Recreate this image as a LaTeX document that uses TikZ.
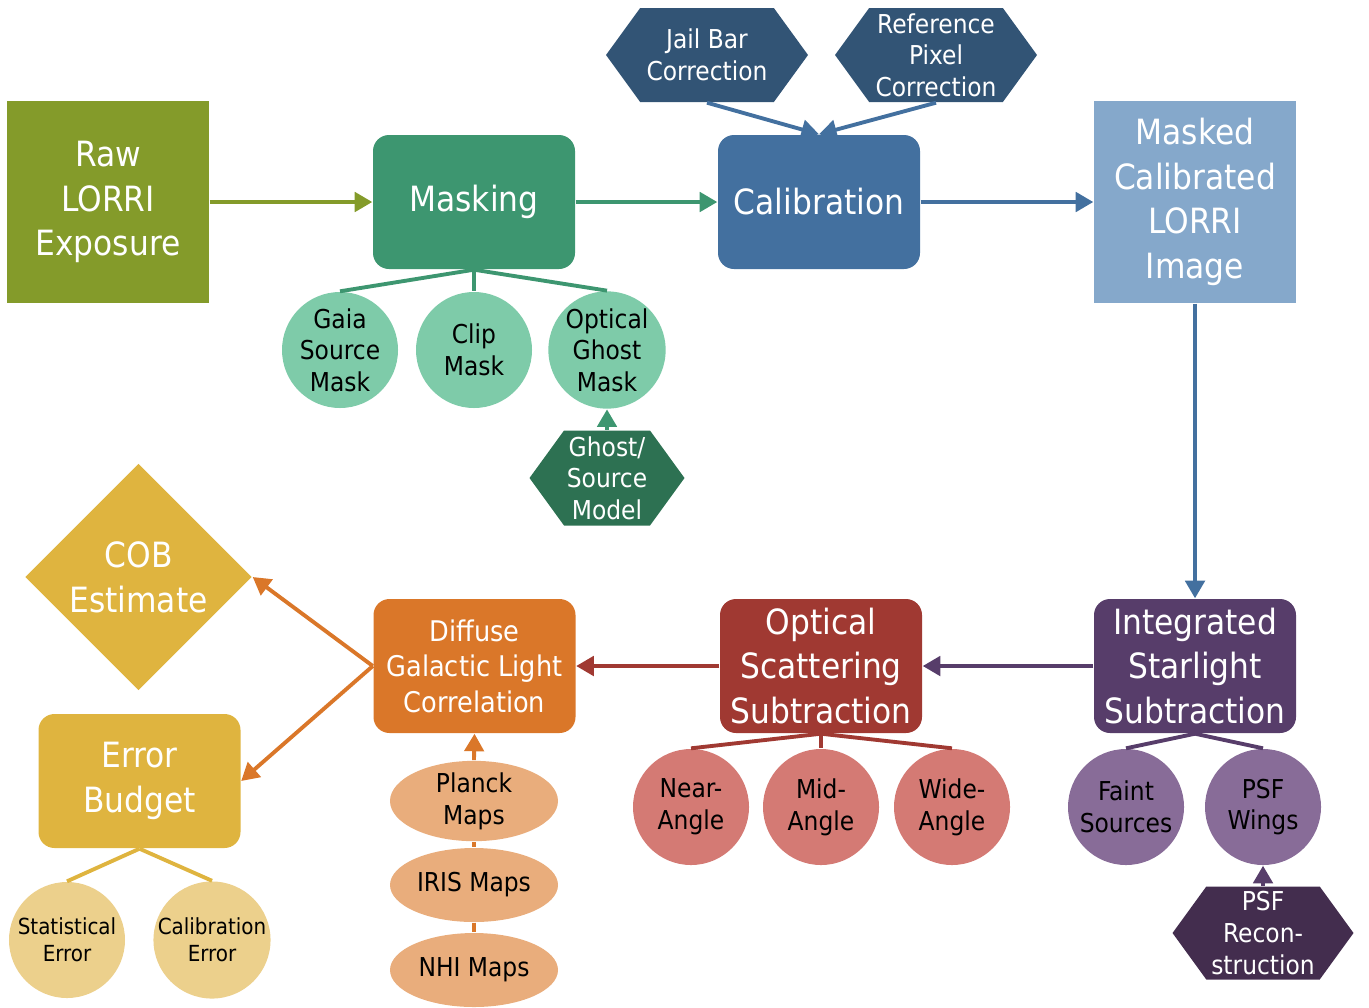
\documentclass[tikz,border=0pt]{standalone}
\usepackage{fontspec}
\setmainfont{DejaVu Sans Condensed}
\usepackage{tikz}
\usetikzlibrary{positioning,arrows.meta,shapes.geometric,shapes.symbols}

\definecolor{rawc}{HTML}{849B2A}
\definecolor{maskc}{HTML}{3D9670}
\definecolor{maskl}{HTML}{7ECBA9}
\definecolor{maskd}{HTML}{2D7152}
\definecolor{calc}{HTML}{43709F}
\definecolor{cald}{HTML}{325475}
\definecolor{imgc}{HTML}{85A8CB}
\definecolor{islc}{HTML}{573D6A}
\definecolor{isll}{HTML}{886C98}
\definecolor{isld}{HTML}{432D4E}
\definecolor{optc}{HTML}{A03932}
\definecolor{optl}{HTML}{D47A74}
\definecolor{dglc}{HTML}{DA7729}
\definecolor{dgll}{HTML}{E9AD7C}
\definecolor{cobc}{HTML}{DFB43F}
\definecolor{cobl}{HTML}{ECD08C}

\begin{document}
\begin{tikzpicture}[
  big/.style={font=\fontsize{9.9}{12.7}\selectfont, text=white, align=center, inner sep=0pt},
  block/.style={big, rectangle, minimum width=2.02cm, minimum height=2.02cm},
  stage/.style={big, rectangle, rounded corners=0.16cm, minimum width=2.02cm, minimum height=1.34cm},
  sub/.style={circle, minimum size=1.16cm, inner sep=0pt, align=center,
    font=\fontsize{7.4}{9}\selectfont},
  hexa/.style={signal, signal to=east and west, signal pointer angle=108,
    minimum width=2.02cm, minimum height=0.94cm, inner sep=0pt, align=center,
    text=white, font=\fontsize{7.4}{9}\selectfont},
  map/.style={ellipse, minimum width=1.68cm, minimum height=0.74cm, inner sep=0pt,
    align=center, fill=dgll, font=\fontsize{7.4}{9}\selectfont},
  flow/.style={line width=1.1pt, -{Triangle[length=5pt, width=5.5pt]}},
  link/.style={line width=1.1pt}
]
\useasboundingbox (0,0) rectangle (13.69,-10.07);

% top row
\node[block, fill=rawc] (raw) at (1.08,-2.02) {Raw\\LORRI\\Exposure};
\node[stage, fill=maskc] (mask) at (4.74,-2.02) {Masking};
\node[stage, fill=calc] (cal) at (8.19,-2.02) {Calibration};
\node[block, fill=imgc] (img) at (11.95,-2.02) {Masked\\Calibrated\\LORRI\\Image};

\node[hexa, fill=cald] (jail) at (7.07,-0.55) {Jail Bar\\Correction};
\node[hexa, fill=cald] (refpix) at (9.36,-0.55) {Reference\\Pixel\\Correction};

\node[sub, fill=maskl] (gaia) at (3.40,-3.50) {Gaia\\Source\\Mask};
\node[sub, fill=maskl] (clip) at (4.74,-3.50) {Clip\\Mask};
\node[sub, fill=maskl] (ghost) at (6.07,-3.50) {Optical\\Ghost\\Mask};
\node[hexa, fill=maskd, minimum width=1.55cm, minimum height=0.95cm] (ghmod) at (6.07,-4.78) {Ghost/\\Source\\Model};

% bottom row
\node[stage, fill=islc] (isl) at (11.95,-6.66) {Integrated\\Starlight\\Subtraction};
\node[stage, fill=optc] (opt) at (8.21,-6.66) {Optical\\Scattering\\Subtraction};
\node[stage, fill=dglc, font=\fontsize{8.1}{10.1}\selectfont] (dgl) at (4.745,-6.66) {Diffuse\\Galactic Light\\Correlation};

\node[sub, fill=isll] (faint) at (11.26,-8.07) {Faint\\Sources};
\node[sub, fill=isll] (wings) at (12.63,-8.07) {PSF\\Wings};
\node[hexa, fill=isld, minimum width=1.81cm, minimum height=0.93cm] (psfrec) at (12.63,-9.33) {PSF\\Recon-\\struction};

\node[sub, fill=optl] (near) at (6.91,-8.07) {Near-\\Angle};
\node[sub, fill=optl] (mid) at (8.21,-8.07) {Mid-\\Angle};
\node[sub, fill=optl] (wide) at (9.52,-8.07) {Wide-\\Angle};

\node[map] (planck) at (4.74,-8.01) {Planck\\Maps};
\node[map] (iris) at (4.74,-8.85) {IRIS Maps};
\node[map] (nhi) at (4.74,-9.70) {NHI Maps};

\node[diamond, aspect=1, fill=cobc, big, minimum width=2.27cm, minimum height=2.27cm] (cob) at (1.385,-5.77) {COB\\Estimate};
\node[stage, fill=cobc] (err) at (1.395,-7.81) {Error\\Budget};
\node[sub, fill=cobl, font=\fontsize{6.3}{7.7}\selectfont] (stat) at (0.67,-9.40) {Statistical\\Error};
\node[sub, fill=cobl, font=\fontsize{6.3}{7.7}\selectfont] (calerr) at (2.12,-9.40) {Calibration\\Error};

% connectors
\draw[flow, rawc] (raw) -- (mask);
\draw[flow, maskc] (mask) -- (cal);
\draw[flow, calc] (cal) -- (img);
\draw[flow, calc] (jail.south) -- (cal.north);
\draw[flow, calc] (refpix.south) -- (cal.north);
\draw[flow, calc] (img) -- (isl);
\draw[flow, islc] (isl) -- (opt);
\draw[flow, optc] (opt) -- (dgl);
\draw[flow, dglc] (dgl.west) -- (cob.east);
\draw[flow, dglc] (dgl.west) -- (err.east);
\draw[flow, maskc] (ghmod.north) -- (ghost.south);
\draw[flow, islc] (psfrec.north) -- (wings.south);
\draw[flow, dglc] (planck.north) -- (dgl.south);

\foreach \c in {gaia, clip, ghost} \draw[link, maskc] (mask.south) -- (\c.north);
\foreach \c in {faint, wings} \draw[link, islc] (isl.south) -- (\c.north);
\foreach \c in {near, mid, wide} \draw[link, optc] (opt.south) -- (\c.north);
\foreach \c in {stat, calerr} \draw[link, cobc] (err.south) -- (\c.north);
\draw[link, dglc] (planck) -- (iris);
\draw[link, dglc] (iris) -- (nhi);

\end{tikzpicture}
\end{document}
